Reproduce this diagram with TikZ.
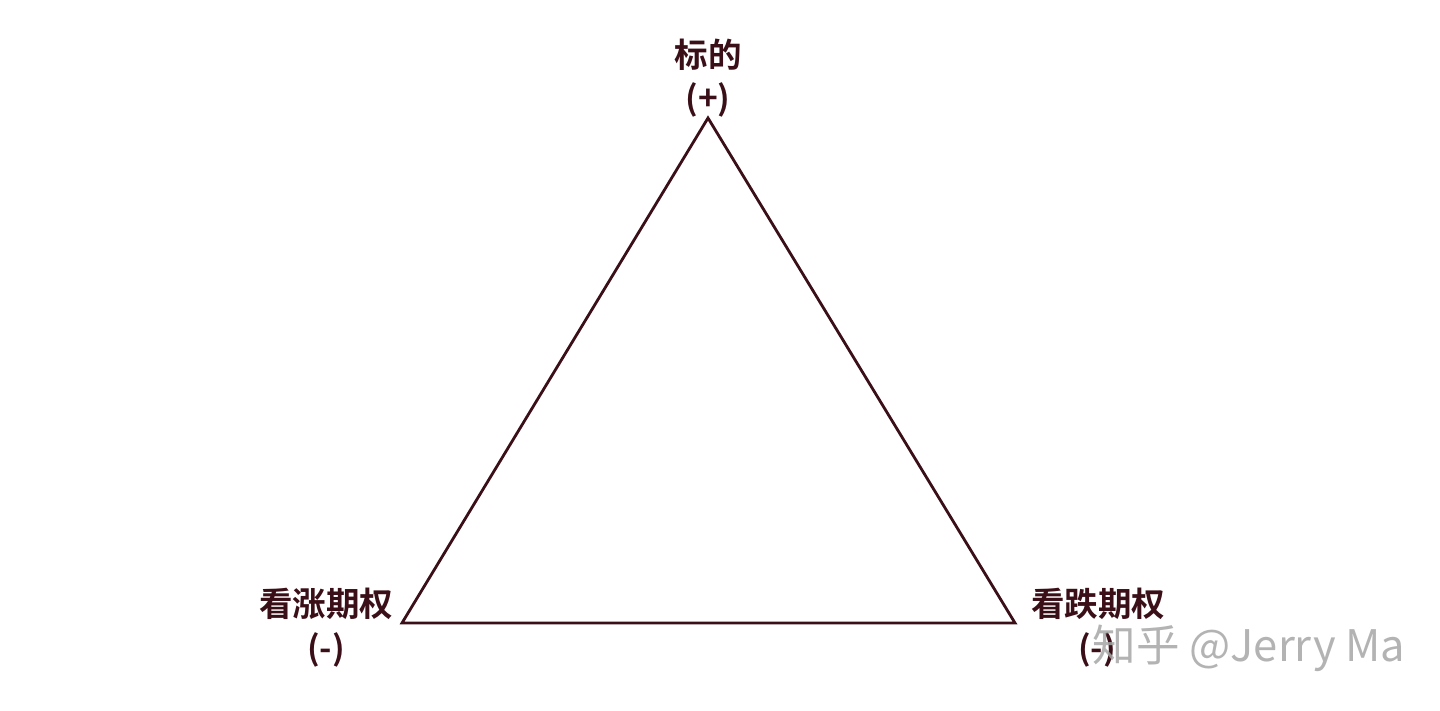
\documentclass[tikz,border=0pt]{standalone}
\usepackage{fontspec}
\newfontfamily\cjkbold{Noto Sans CJK SC Bold}
\newfontfamily\cjk{Noto Sans CJK SC}
\definecolor{maroon}{HTML}{3A0F18}
\tikzset{
	lbl/.style={text=maroon, font=\cjkbold\fontsize{33.5}{38}\selectfont, inner sep=0pt}
}
\begin{document}
\begin{tikzpicture}[x=1pt, y=-1pt]
			%%%%% START %%%%%
			
			\useasboundingbox (0, 0) rectangle (1440, 711);
			
			\coordinate (top) at (708, 118);
			\coordinate (left) at (402, 623);
			\coordinate (right) at (1015, 623);
			\draw[line width=2.8pt, color=maroon, line join=miter] (top) -- (left) -- (right) -- cycle;
			
			\node[lbl] (underlying) at (708, 55) {标的};
			\node[lbl] (plus) at (708, 100) {(+)};
			
			\node[lbl] (call) at (326, 604) {看涨期权};
			\node[lbl] (callsign) at (326, 650) {(-)};
			
			\node[lbl] (put) at (1098, 604) {看跌期权};
			\node[lbl] (putsign) at (1097, 650) {(-)};
			
			\node[text=black!35, opacity=0.85, font=\cjk\fontsize{43.5}{48}\selectfont, inner sep=0pt] (watermark) at (1249, 648) {知乎 @Jerry Ma};
			
			%%%%% END %%%%%
\end{tikzpicture}
\end{document}
